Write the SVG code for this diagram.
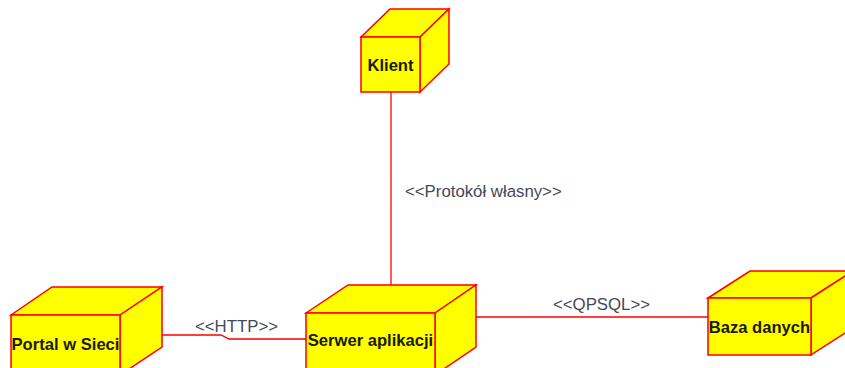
<svg xmlns="http://www.w3.org/2000/svg" width="845" height="368" viewBox="0 0 845 368">
  <style>
    .box { fill: #ffff00; stroke: #ff0000; stroke-width: 1.5; stroke-linejoin: miter; }
    .name { font-family: "Liberation Sans", Arial, sans-serif; font-size: 16.6px; font-weight: bold; fill: #1a1a00; text-anchor: middle; }
    .link { fill: none; stroke: #ff0000; stroke-width: 1.3; }
    .stereo { font-family: "Liberation Sans", Arial, sans-serif; font-size: 16.8px; fill: #45475a; }
  </style>
  <rect width="845" height="368" fill="#ffffff"/>

  <g id="connectors">
    <line class="link" x1="391" y1="92" x2="391" y2="285"/>
    <polyline class="link" points="162,335 221,335 229,339 306,339"/>
    <line class="link" x1="476" y1="317" x2="708" y2="317"/>
    <text class="stereo" x="405" y="197">&lt;&lt;Protokół własny&gt;&gt;</text>
    <text class="stereo" x="195" y="332">&lt;&lt;HTTP&gt;&gt;</text>
    <text class="stereo" x="553" y="310">&lt;&lt;QPSQL&gt;&gt;</text>
  </g>

  <g id="klient">
    <polygon class="box" points="361,37 390,9 449,9 420,37"/>
    <polygon class="box" points="420,37 449,9 449,64 420,92"/>
    <rect class="box" x="361" y="37" width="59" height="55"/>
    <text class="name" x="390.5" y="71">Klient</text>
  </g>

  <g id="portal">
    <polygon class="box" points="11,315 52,287 162,287 120,315"/>
    <polygon class="box" points="120,315 162,287 162,347 120,375"/>
    <rect class="box" x="11" y="315" width="109" height="60"/>
    <text class="name" x="65.5" y="350">Portal w Sieci</text>
  </g>

  <g id="serwer">
    <polygon class="box" points="306,313 348,285 476,285 435,313"/>
    <polygon class="box" points="435,313 476,285 476,347 435,375"/>
    <rect class="box" x="306" y="313" width="129" height="62"/>
    <text class="name" x="370.5" y="346">Serwer aplikacji</text>
  </g>

  <g id="baza">
    <polygon class="box" points="708,298 750,271 853,271 811,298"/>
    <polygon class="box" points="811,298 853,271 853,328 811,355"/>
    <rect class="box" x="708" y="298" width="103" height="57"/>
    <text class="name" x="759.5" y="333">Baza danych</text>
  </g>
</svg>
